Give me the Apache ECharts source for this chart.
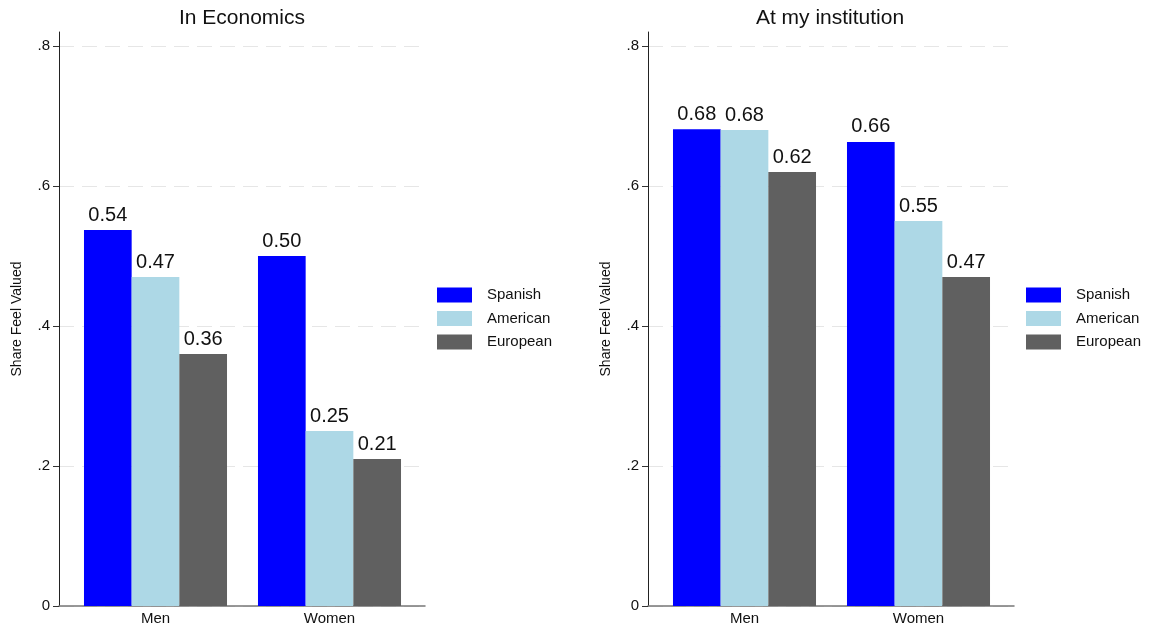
<!DOCTYPE html>
<html>
<head>
<meta charset="utf-8">
<script src="https://cdn.jsdelivr.net/npm/echarts@6/dist/echarts.min.js"></script>
<style>
html,body{margin:0;padding:0;background:#fff;}
#chart{width:1149px;height:629px;}
</style>
</head>
<body>
<div id="chart"></div>
<script>
// ---- data ----
var categories = ['Men', 'Women'];
var seriesNames = ['Spanish', 'American', 'European'];
var panelTitles = ['In Economics', 'At my institution'];
var econSpanish = [0.537, 0.500];
var econAmerican = [0.470, 0.250];
var econEuropean = [0.360, 0.210];
var instSpanish = [0.681, 0.663];
var instAmerican = [0.680, 0.550];
var instEuropean = [0.620, 0.470];
var yTickValues = [0, 0.2, 0.4, 0.6, 0.8];
var yTickLabels = ['0', '.2', '.4', '.6', '.8'];
var yAxisTitle = 'Share Feel Valued';

var panelData = [
  [econSpanish, econAmerican, econEuropean],
  [instSpanish, instAmerican, instEuropean]
];
var colors = ['#0000ff', '#add8e6', '#606060'];
var FONT = '"Liberation Sans", Arial, Helvetica, sans-serif';

// layout per panel
var panels = [
  {axisX: 59, axisEnd: 425, gridEnd: 422, dataLeft: 68.5, legendLeft: 437, titleX: 242},
  {axisX: 648, axisEnd: 1014, gridEnd: 1011, dataLeft: 657.5, legendLeft: 1026, titleX: 830}
];
var TOP = 32, ZERO = 606, TOP08 = 46, YMAX = 0.82;

var grids = [], xAxes = [], yAxes = [], series = [], titles = [], legends = [];
panels.forEach(function (P, p) {
  // frame grid (axis lines)
  grids.push({left: P.axisX, top: TOP, width: P.axisEnd - P.axisX, height: ZERO - TOP, containLabel: false});
  xAxes.push({gridIndex: 3*p, type: 'value', min: 0, max: 1, axisLine: {show: true, onZero: false, lineStyle: {color: '#777', width: 1.5}},
    axisTick: {show: false}, axisLabel: {show: false}, splitLine: {show: false}});
  yAxes.push({gridIndex: 3*p, type: 'value', min: 0, max: YMAX, axisLine: {show: true, lineStyle: {color: '#222', width: 1}},
    axisTick: {show: false}, axisLabel: {show: false}, splitLine: {show: false},
    name: yAxisTitle, nameLocation: 'middle', nameGap: 35, nameRotate: 90,
    nameTextStyle: {fontFamily: FONT, fontSize: 14, color: '#111'}});
  // tick grid
  grids.push({left: P.axisX, top: TOP08, width: P.gridEnd - P.axisX, height: ZERO - TOP08});
  xAxes.push({gridIndex: 3*p+1, type: 'value', min: 0, max: 1, show: false});
  yAxes.push({gridIndex: 3*p+1, type: 'value', min: 0, max: 0.8, interval: 0.2,
    axisLine: {show: false}, axisTick: {show: true, length: 6, lineStyle: {color: '#333'}},
    axisLabel: {show: true, margin: 9, fontFamily: FONT, fontSize: 15, color: '#111',
      formatter: function (v) { var i = yTickValues.findIndex(function (t) { return Math.abs(t - v) < 1e-6; }); return i >= 0 ? yTickLabels[i] : ''; }},
    splitLine: {show: true, lineStyle: {color: '#e6e6e6', width: 1, type: [15, 8]}}});
  // data grid
  grids.push({left: P.dataLeft, top: TOP, width: 348, height: ZERO - TOP});
  xAxes.push({gridIndex: 3*p+2, type: 'category', data: categories, axisLine: {show: false}, axisTick: {show: false},
    axisLabel: {margin: 5, fontFamily: FONT, fontSize: 15, color: '#111'}});
  yAxes.push({gridIndex: 3*p+2, type: 'value', min: 0, max: YMAX, show: false});
  seriesNames.forEach(function (name, s) {
    series.push({
      name: name, type: 'bar', xAxisIndex: 3*p+2, yAxisIndex: 3*p+2,
      data: panelData[p][s], barGap: '0%', barCategoryGap: '17.8%',
      itemStyle: {color: colors[s]},
      label: {show: true, position: 'top', distance: 5, fontFamily: FONT, fontSize: 20, color: '#111',
        formatter: function (d) { return d.value.toFixed(2); }},
      emphasis: {disabled: true}, animation: false
    });
  });
  titles.push({text: panelTitles[p], left: P.titleX, textAlign: 'center', top: 8, padding: 0,
    textStyle: {fontFamily: FONT, fontSize: 21, fontWeight: 'normal', color: '#111'}});
  legends.push({data: seriesNames, orient: 'vertical', left: P.legendLeft, top: 287.5, itemWidth: 35, itemHeight: 15, itemGap: 8.5,
    icon: 'rect', padding: 0, selectedMode: false,
    textStyle: {fontFamily: FONT, fontSize: 15, color: '#111', padding: [4, 0, 0, 10]}});
});

var chart = echarts.init(document.getElementById('chart'), null, {renderer: 'canvas'});
chart.setOption({
  backgroundColor: '#fff',
  animation: false,
  title: titles,
  legend: legends,
  grid: grids,
  xAxis: xAxes,
  yAxis: yAxes,
  series: series
});
</script>
</body>
</html>
